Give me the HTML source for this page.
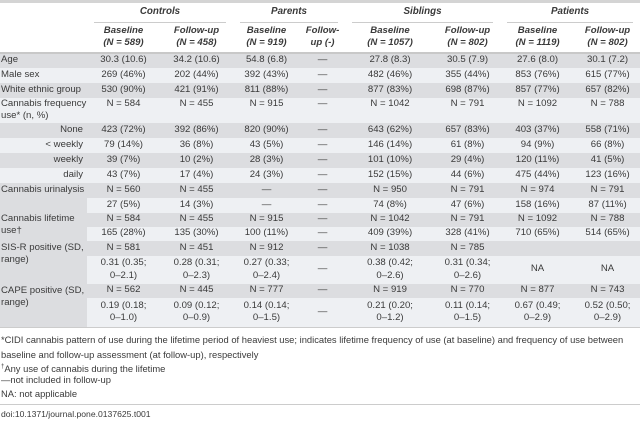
<!DOCTYPE html>
<html><head><meta charset="utf-8"><style>
body{margin:0;width:640px;height:422px;background:#fff;font-family:"Liberation Sans",sans-serif;color:#3a3a3a;font-size:9.6px;overflow:hidden;position:relative}
table{position:absolute;left:0;top:0;border-collapse:collapse;table-layout:fixed;width:640px;border-top:3px solid #d4d4d4}
td{padding:0 1px;text-align:center;line-height:12.5px;vertical-align:middle;overflow:hidden;white-space:nowrap}
td.l{text-align:left;padding-left:1px}
td.r{text-align:right;padding-right:4px}
tr.g td{background:#dcdde0}
tr.w td{background:#eef0f3}
.h1 td{height:18px;font-weight:bold;font-style:italic;font-size:9.8px}
.h1 span{display:block;margin:0 6px;border-bottom:1px solid #ccc;padding-bottom:3px;padding-top:3px}
.h2 td{height:29px;font-weight:bold;font-style:italic;border-bottom:2px solid #c8c8c8}
.f{position:absolute;left:1px;font-size:9.4px;line-height:12px;color:#3a3a3a;white-space:nowrap}
</style></head><body>
<table>
<colgroup><col style="width:87px"><col style="width:73px"><col style="width:73px"><col style="width:67px"><col style="width:45px"><col style="width:90px"><col style="width:65px"><col style="width:75px"><col style="width:65px"></colgroup>
<tr class="h1"><td></td><td colspan="2"><span>Controls</span></td><td colspan="2"><span>Parents</span></td><td colspan="2"><span>Siblings</span></td><td colspan="2"><span>Patients</span></td></tr>
<tr class="h2"><td></td><td>Baseline<br>(N = 589)</td><td>Follow-up<br>(N = 458)</td><td>Baseline<br>(N = 919)</td><td>Follow-<br>up (-)</td><td>Baseline<br>(N = 1057)</td><td>Follow-up<br>(N = 802)</td><td>Baseline<br>(N = 1119)</td><td>Follow-up<br>(N = 802)</td></tr>
<tr class="g" style="height:15px"><td class="l">Age</td><td>30.3 (10.6)</td><td>34.2 (10.6)</td><td>54.8 (6.8)</td><td>—</td><td>27.8 (8.3)</td><td>30.5 (7.9)</td><td>27.6 (8.0)</td><td>30.1 (7.2)</td></tr>
<tr class="w" style="height:15px"><td class="l">Male sex</td><td>269 (46%)</td><td>202 (44%)</td><td>392 (43%)</td><td>—</td><td>482 (46%)</td><td>355 (44%)</td><td>853 (76%)</td><td>615 (77%)</td></tr>
<tr class="g" style="height:15px"><td class="l">White ethnic group</td><td>530 (90%)</td><td>421 (91%)</td><td>811 (88%)</td><td>—</td><td>877 (83%)</td><td>698 (87%)</td><td>857 (77%)</td><td>657 (82%)</td></tr>
<tr class="w" style="height:25px"><td class="l" style="vertical-align:top;padding-top:0">Cannabis frequency<br>use* (n, %)</td><td style="vertical-align:top">N = 584</td><td style="vertical-align:top">N = 455</td><td style="vertical-align:top">N = 915</td><td style="vertical-align:top">—</td><td style="vertical-align:top">N = 1042</td><td style="vertical-align:top">N = 791</td><td style="vertical-align:top">N = 1092</td><td style="vertical-align:top">N = 788</td></tr>
<tr class="g" style="height:15px"><td class="r">None</td><td>423 (72%)</td><td>392 (86%)</td><td>820 (90%)</td><td>—</td><td>643 (62%)</td><td>657 (83%)</td><td>403 (37%)</td><td>558 (71%)</td></tr>
<tr class="w" style="height:15px"><td class="r">&lt; weekly</td><td>79 (14%)</td><td>36 (8%)</td><td>43 (5%)</td><td>—</td><td>146 (14%)</td><td>61 (8%)</td><td>94 (9%)</td><td>66 (8%)</td></tr>
<tr class="g" style="height:15px"><td class="r">weekly</td><td>39 (7%)</td><td>10 (2%)</td><td>28 (3%)</td><td>—</td><td>101 (10%)</td><td>29 (4%)</td><td>120 (11%)</td><td>41 (5%)</td></tr>
<tr class="w" style="height:15px"><td class="r">daily</td><td>43 (7%)</td><td>17 (4%)</td><td>24 (3%)</td><td>—</td><td>152 (15%)</td><td>44 (6%)</td><td>475 (44%)</td><td>123 (16%)</td></tr>
<tr class="g" style="height:15px"><td class="l" rowspan="2" style="vertical-align:top;padding-top:1px">Cannabis urinalysis</td><td>N = 560</td><td>N = 455</td><td>—</td><td>—</td><td>N = 950</td><td>N = 791</td><td>N = 974</td><td>N = 791</td></tr>
<tr class="w" style="height:15px"><td>27 (5%)</td><td>14 (3%)</td><td>—</td><td>—</td><td>74 (8%)</td><td>47 (6%)</td><td>158 (16%)</td><td>87 (11%)</td></tr>
<tr class="g" style="height:14px"><td class="l" rowspan="2" style="vertical-align:top;padding-top:0">Cannabis lifetime<br>use†</td><td>N = 584</td><td>N = 455</td><td>N = 915</td><td>—</td><td>N = 1042</td><td>N = 791</td><td>N = 1092</td><td>N = 788</td></tr>
<tr class="w" style="height:14px"><td>165 (28%)</td><td>135 (30%)</td><td>100 (11%)</td><td>—</td><td>409 (39%)</td><td>328 (41%)</td><td>710 (65%)</td><td>514 (65%)</td></tr>
<tr class="g" style="height:15px"><td class="l" rowspan="2" style="vertical-align:top;padding-top:1px">SIS-R positive (SD,<br>range)</td><td>N = 581</td><td>N = 451</td><td>N = 912</td><td>—</td><td>N = 1038</td><td>N = 785</td><td></td><td></td></tr>
<tr class="w" style="height:28px"><td>0.31 (0.35;<br>0–2.1)</td><td>0.28 (0.31;<br>0–2.3)</td><td>0.27 (0.33;<br>0–2.4)</td><td>—</td><td>0.38 (0.42;<br>0–2.6)</td><td>0.31 (0.34;<br>0–2.6)</td><td>NA</td><td>NA</td></tr>
<tr class="g" style="height:14px"><td class="l" rowspan="2" style="vertical-align:top;padding-top:1px">CAPE positive (SD,<br>range)</td><td>N = 562</td><td>N = 445</td><td>N = 777</td><td>—</td><td>N = 919</td><td>N = 770</td><td>N = 877</td><td>N = 743</td></tr>
<tr class="w" style="height:29px"><td>0.19 (0.18;<br>0–1.0)</td><td>0.09 (0.12;<br>0–0.9)</td><td>0.14 (0.14;<br>0–1.5)</td><td>—</td><td>0.21 (0.20;<br>0–1.2)</td><td>0.11 (0.14;<br>0–1.5)</td><td>0.67 (0.49;<br>0–2.9)</td><td>0.52 (0.50;<br>0–2.9)</td></tr>
</table>
<div style="position:absolute;left:0;top:327px;width:640px;height:1px;background:#ccc"></div>
<div class="f" style="top:334px">*CIDI cannabis pattern of use during the lifetime period of heaviest use; indicates lifetime frequency of use (at baseline) and frequency of use between</div>
<div class="f" style="top:349px">baseline and follow-up assessment (at follow-up), respectively</div>
<div class="f" style="top:361px"><sup style="font-size:6px">†</sup>Any use of cannabis during the lifetime</div>
<div class="f" style="top:374px">—not included in follow-up</div>
<div class="f" style="top:388px">NA: not applicable</div>
<div style="position:absolute;left:0;top:404px;width:640px;height:1px;background:#ccc"></div>
<div class="f" style="top:408px;font-size:8.6px">doi:10.1371/journal.pone.0137625.t001</div>
</body></html>
